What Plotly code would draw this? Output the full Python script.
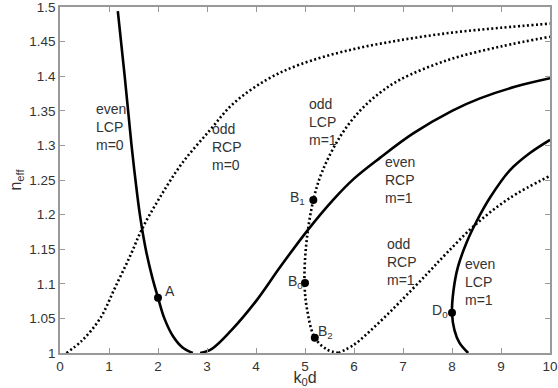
import plotly.graph_objects as go

# even LCP m=0 (solid)
even_lcp_m0_x = [1.18, 1.32, 1.46, 1.54, 1.63, 1.75, 1.88, 2.0, 2.13, 2.3, 2.5, 2.71]
even_lcp_m0_y = [1.494, 1.4, 1.3, 1.25, 1.2, 1.15, 1.11, 1.08, 1.05, 1.025, 1.008, 1.0]
# odd RCP m=0 (dotted)
odd_rcp_m0_x = [0.13, 0.45, 0.82, 1.12, 1.43, 1.68, 2.04, 2.5, 3.06, 3.53, 4.22, 4.9, 5.92, 6.94, 8.0, 9.0, 10.0]
odd_rcp_m0_y = [1.0, 1.018, 1.05, 1.094, 1.14, 1.18, 1.225, 1.275, 1.322, 1.36, 1.395, 1.417, 1.438, 1.452, 1.463, 1.47, 1.476]
# odd LCP m=1 (dotted)
odd_lcp_m1_x = [5.68, 5.45, 5.2, 5.05, 4.99, 5.03, 5.17, 5.35, 5.71, 6.12, 6.53, 6.94, 7.9, 9.0, 10.0]
odd_lcp_m1_y = [1.0, 1.005, 1.022, 1.06, 1.1, 1.16, 1.221, 1.262, 1.312, 1.35, 1.376, 1.395, 1.423, 1.443, 1.457]
# even RCP m=1 (solid)
even_rcp_m1_x = [2.86, 3.1, 3.5, 4.0, 4.5, 5.06, 5.57, 6.0, 6.53, 7.2, 8.0, 8.57, 9.3, 10.0]
even_rcp_m1_y = [1.0, 1.006, 1.033, 1.075, 1.125, 1.178, 1.221, 1.252, 1.282, 1.317, 1.35, 1.368, 1.385, 1.397]
# odd RCP m=1 (dotted)
odd_rcp_m1_x = [5.68, 6.0, 6.3, 6.6, 6.94, 7.5, 7.9, 8.47, 9.18, 10.0]
odd_rcp_m1_y = [1.0, 1.012, 1.03, 1.05, 1.074, 1.115, 1.145, 1.185, 1.224, 1.256]
# even LCP m=1 (solid)
even_lcp_m1_x = [8.33, 8.15, 8.05, 8.0, 8.03, 8.12, 8.3, 8.5, 8.78, 9.18, 9.59, 10.0]
even_lcp_m1_y = [1.0, 1.015, 1.033, 1.058, 1.09, 1.124, 1.16, 1.19, 1.225, 1.264, 1.289, 1.308]

# marked points
pt_names = ["A", "B<sub>1</sub>", "B<sub>0</sub>", "B<sub>2</sub>", "D<sub>0</sub>"]
pt_x = [2.0, 5.17, 5.0, 5.2, 8.0]
pt_y = [1.08, 1.221, 1.101, 1.022, 1.058]
pt_label_x = [2.24, 4.84, 4.8, 5.42, 7.76]
pt_label_y = [1.09, 1.224, 1.103, 1.031, 1.06]

# cutoff labels
c_names = ["C", "C<sub>2</sub>", "C<sub>3</sub>"]
c_x = [2.71, 5.58, 8.5]
c_y = [0.984, 0.984, 0.986]

# curve labels
mode_labels = ["even<br>LCP<br>m=0", "odd<br>RCP<br>m=0", "odd<br>LCP<br>m=1",
               "even<br>RCP<br>m=1", "odd<br>RCP<br>m=1", "even<br>LCP<br>m=1"]
mode_label_x = [0.7, 3.06, 5.04, 6.6, 6.63, 8.23]
mode_label_y = [1.326, 1.297, 1.334, 1.25, 1.131, 1.103]

x_ticks = list(range(0, 11))
y_ticks = [1.0, 1.05, 1.1, 1.15, 1.2, 1.25, 1.3, 1.35, 1.4, 1.45, 1.5]
y_tick_text = ["1", "1.05", "1.1", "1.15", "1.2", "1.25", "1.3", "1.35", "1.4", "1.45", "1.5"]

FAM = "Liberation Sans, Arial, sans-serif"
fig = go.Figure()
solid = dict(color="black", width=2.6, shape="spline", smoothing=1.0)
dotted = dict(color="black", width=2.6, dash="2px,2.5px", shape="spline", smoothing=1.0)

fig.add_trace(go.Scatter(x=even_lcp_m0_x, y=even_lcp_m0_y, mode="lines", line=solid))
fig.add_trace(go.Scatter(x=odd_rcp_m0_x, y=odd_rcp_m0_y, mode="lines", line=dotted))
fig.add_trace(go.Scatter(x=odd_lcp_m1_x, y=odd_lcp_m1_y, mode="lines", line=dotted))
fig.add_trace(go.Scatter(x=even_rcp_m1_x, y=even_rcp_m1_y, mode="lines", line=solid))
fig.add_trace(go.Scatter(x=odd_rcp_m1_x, y=odd_rcp_m1_y, mode="lines", line=dotted))
fig.add_trace(go.Scatter(x=even_lcp_m1_x, y=even_lcp_m1_y, mode="lines", line=solid))
fig.add_trace(go.Scatter(x=pt_x, y=pt_y, mode="markers",
                         marker=dict(color="black", size=8)))

font = dict(family=FAM, size=14, color="#333")
for t, x, y in zip(mode_labels, mode_label_x, mode_label_y):
    fig.add_annotation(x=x, y=y, text=t, showarrow=False, xanchor="left",
                       yanchor="middle", align="left", font=font)
for t, x, y in zip(pt_names, pt_label_x, pt_label_y):
    fig.add_annotation(x=x, y=y, text=t, showarrow=False, font=font)
for t, x, y in zip(c_names, c_x, c_y):
    fig.add_annotation(x=x, y=y, text=t, showarrow=False, font=font)

axis_common = dict(showline=True, linecolor="#999", linewidth=1.5, mirror="ticks",
                   ticks="inside", ticklen=5, tickcolor="#999", showgrid=False,
                   zeroline=False, automargin=False, ticklabeloverflow="allow",
                   tickfont=dict(family=FAM, size=13.5, color="#333"))
fig.update_xaxes(range=[0, 10], tickvals=x_ticks,
                 title=dict(text="k<sub>0</sub>d", standoff=2,
                            font=dict(family=FAM, size=16, color="#333")),
                 **axis_common)
fig.update_yaxes(range=[1, 1.5], tickvals=y_ticks, ticktext=y_tick_text,
                 title=dict(text="n<sub>eff</sub>", standoff=4,
                            font=dict(family=FAM, size=16, color="#333")),
                 **axis_common)
fig.update_layout(width=558, height=388, margin=dict(l=60, r=8, t=7, b=35),
                  showlegend=False, plot_bgcolor="white", paper_bgcolor="white")
fig.write_html("out.html")
